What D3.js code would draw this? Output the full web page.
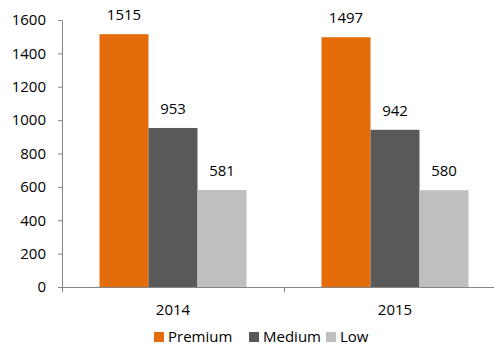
<!DOCTYPE html>
<html>
<head>
<meta charset="utf-8">
<script src="https://cdn.jsdelivr.net/npm/d3@7"></script>
<style>
  body { margin: 0; background: #fff; }
  svg text { font-family: "Open Sans", sans-serif; font-size: 15px; fill: #000; }
  .axis path, .axis line { stroke: #868686; }
</style>
</head>
<body>
<div id="chart"></div>
<script>
var years = ["2014", "2015"];
var tiers = ["Premium", "Medium", "Low"];
var premium = [1515, 1497];
var medium = [953, 942];
var low = [581, 580];
var yTicks = [0, 200, 400, 600, 800, 1000, 1200, 1400, 1600];
var colors = ["#E46C0A", "#595959", "#BFBFBF"];

var w = 494, h = 347;
var plotLeft = 62, plotRight = 506, plotTop = 20, plotBottom = 287;

var series = [premium, medium, low];

var svg = d3.select("#chart").append("svg")
  .attr("width", w)
  .attr("height", h);

var xScale = d3.scaleBand()
  .domain(years)
  .range([plotLeft, plotRight]);

var inner = d3.scaleBand()
  .domain(tiers)
  .range([0, 147]);

var yScale = d3.scaleLinear()
  .domain([0, 1600])
  .range([plotBottom, plotTop]);

// bars
years.forEach(function(year, i) {
  var g = svg.append("g")
    .attr("transform", "translate(" + (xScale(year) + (xScale.bandwidth() - 147) / 2) + ",0)");

  tiers.forEach(function(tier, j) {
    var v = series[j][i];
    g.append("rect")
      .attr("x", inner(tier))
      .attr("y", yScale(v))
      .attr("width", inner.bandwidth())
      .attr("height", yScale(0) - yScale(v))
      .attr("fill", colors[j]);

    g.append("text")
      .attr("x", inner(tier) + inner.bandwidth() / 2)
      .attr("y", yScale(v) - 14)
      .attr("text-anchor", "middle")
      .text(v);
  });
});

// y axis
var yAxis = d3.axisLeft(yScale)
  .tickValues(yTicks)
  .tickFormat(d3.format("d"))
  .tickSize(4)
  .tickSizeOuter(0)
  .tickPadding(12);

var yg = svg.append("g")
  .attr("class", "y axis")
  .attr("transform", "translate(" + plotLeft + ",0)")
  .call(yAxis);
yg.selectAll("text").style("font-size", "15px").style("font-family", "'Open Sans', sans-serif").attr("fill", "#000");

// x axis: line with ticks at category boundaries
var xg = svg.append("g").attr("class", "x axis");
xg.append("line")
  .attr("x1", plotLeft).attr("x2", plotRight)
  .attr("y1", plotBottom + 0.5).attr("y2", plotBottom + 0.5);
xg.selectAll(".bt")
  .data(years.map(function(y) { return xScale(y); }).concat([plotRight]))
  .enter().append("line")
  .attr("x1", function(d) { return Math.round(d) + 0.5; })
  .attr("x2", function(d) { return Math.round(d) + 0.5; })
  .attr("y1", plotBottom)
  .attr("y2", plotBottom + 5);
xg.selectAll("text")
  .data(years)
  .enter().append("text")
  .attr("x", function(d) { return xScale(d) + xScale.bandwidth() / 2; })
  .attr("y", 315)
  .attr("text-anchor", "middle")
  .text(function(d) { return d; });

// legend
var legendX = [154, 249, 326];
var legend = svg.selectAll(".legend")
  .data(tiers)
  .enter().append("g")
  .attr("class", "legend")
  .attr("transform", function(d, i) { return "translate(" + legendX[i] + ",332)"; });

legend.append("rect")
  .attr("width", 10)
  .attr("height", 10)
  .attr("fill", function(d, i) { return colors[i]; });

legend.append("text")
  .attr("x", 14)
  .attr("y", 10)
  .text(function(d) { return d; });
</script>
</body>
</html>
